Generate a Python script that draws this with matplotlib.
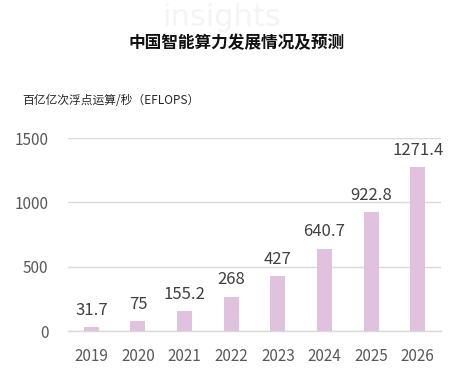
import matplotlib
matplotlib.use("Agg")
import matplotlib.pyplot as plt

plt.rcParams['font.family'] = ['Noto Sans CJK SC', 'DejaVu Sans']

years = ["2019", "2020", "2021", "2022", "2023", "2024", "2025", "2026"]
values = [31.7, 75, 155.2, 268, 427, 640.7, 922.8, 1271.4]
labels = ["31.7", "75", "155.2", "268", "427", "640.7", "922.8", "1271.4"]
yticks = [0, 500, 1000, 1500]

fig = plt.figure(figsize=(4.56, 3.86), dpi=100)
ax = fig.add_axes([68/456, 1 - 331/386, (441-68)/456, (331-138)/386])

# faint watermark at the top (kept clear of the title and the edge)
fig.text(222/456, 1 - 26/386, "insights", ha="center", va="baseline", fontsize=22,
         color="#f4f4f4", family=["DejaVu Sans"], zorder=0)

x = list(range(len(years)))
ax.bar(x, values, width=0.32, color="#e0c2df", zorder=3)
for xi, v, lab in zip(x, values, labels):
    ax.annotate(lab, (xi, v), xytext=(0, 6), textcoords="offset points",
                ha="center", va="bottom", fontsize=12, color="#404040")

ax.set_xlim(-0.5, len(years) - 0.5)
ax.set_ylim(0, 1500)
ax.set_yticks(yticks)
ax.set_yticklabels([str(t) for t in yticks])
ax.set_xticks(x)
ax.set_xticklabels(years)
ax.tick_params(axis="both", length=0, labelsize=11, colors="#595959")
ax.tick_params(axis="x", pad=12)
ax.tick_params(axis="y", pad=14)
ax.grid(axis="y", color="#d9d9d9", linewidth=1, zorder=0)
for s in ["top", "right", "left"]:
    ax.spines[s].set_visible(False)
ax.spines["bottom"].set_color("#d9d9d9")
ax.spines["bottom"].set_linewidth(1)
ax.set_facecolor("none")

fig.text(237/456, 1 - 43/386, "中国智能算力发展情况及预测", ha="center", va="center",
         fontsize=12, fontweight="bold", color="#111111")
fig.text(22/456, 1 - 100/386, "百亿亿次浮点运算/秒（EFLOPS）", ha="left", va="center",
         fontsize=8.5, color="#262626")

fig.savefig("out.png", dpi=100)
